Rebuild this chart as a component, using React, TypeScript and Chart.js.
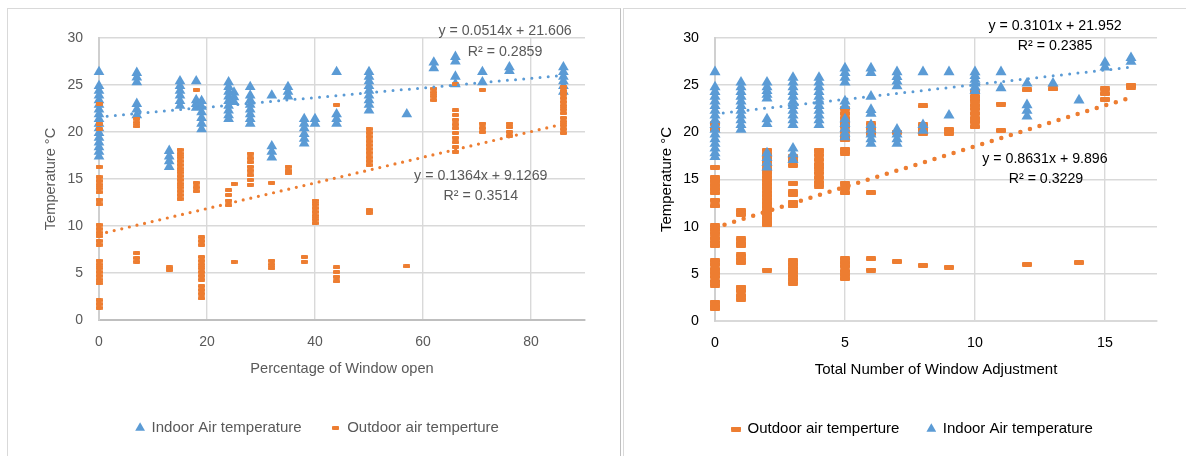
import React, { useEffect, useRef } from "react";
import { Chart, registerables } from "chart.js";

Chart.register(...registerables);

const BLUE = "#5B9BD5";
const ORANGE = "#ED7D31";
const FONT = "'Liberation Sans', Arial, sans-serif";

// ---------------- Left chart: Percentage of Window open ----------------
const leftXTitle = "Percentage of Window open";
const leftYTitle = "Temperature °C";
const leftXMax = 90;
const leftXTicks = [0, 20, 40, 60, 80];
const leftYTicks = [0, 5, 10, 15, 20, 25, 30];

const leftIndoorX = [0, 7, 13, 15, 18, 19, 24, 25, 28, 32, 35, 38, 40, 44, 50, 57, 62, 66, 71, 76, 86];
const leftIndoorY = [
  [26.4, 24.9, 24.4, 23.9, 23.4, 22.9, 22.4, 21.9, 21.4, 20.9, 20.4, 19.9, 19.4, 18.9, 18.4, 17.9, 17.4],
  [26.3, 25.8, 25.3, 23.0, 22.4, 21.8],
  [18.0, 17.4, 16.9, 16.3],
  [25.4, 24.9, 24.4, 23.9, 23.3, 22.8],
  [25.4, 23.4, 23.0, 22.6],
  [23.3, 22.7, 22.1, 21.5, 20.9, 20.3],
  [25.3, 24.8, 24.3, 23.8, 23.3, 22.8, 22.3, 21.8, 21.4],
  [24.2, 23.7, 23.2],
  [24.8, 23.9, 23.4, 22.9, 22.4, 21.9, 21.4, 20.9],
  [23.9, 18.5, 17.9, 17.3],
  [24.8, 24.3, 23.8],
  [21.4, 20.9, 20.4, 19.8, 19.3, 18.8],
  [21.4, 20.9],
  [26.4, 21.9, 21.4, 20.9],
  [26.4, 25.9, 25.4, 24.9, 24.4, 23.9, 23.4, 22.9, 22.3],
  [21.9],
  [27.4, 26.8],
  [28.0, 27.5, 25.9, 25.1],
  [26.4, 25.3],
  [26.9, 26.5],
  [26.9, 26.4, 25.9, 25.4, 24.9, 24.3],
];

const leftOutdoorX = [0, 7, 13, 15, 18, 19, 24, 25, 28, 32, 35, 38, 40, 44, 50, 57, 62, 66, 71, 76, 86];
const leftOutdoorY = [
  [23.0, 20.9, 20.3, 16.3, 15.2, 14.8, 14.4, 14.0, 13.6, 12.8, 12.3, 10.1, 9.7, 9.3, 8.9, 8.4, 8.0, 6.3, 5.9, 5.5, 5.1, 4.7, 4.3, 3.9, 2.1, 1.7, 1.3],
  [21.4, 21.0, 20.6, 7.1, 6.6, 6.2],
  [5.6, 5.3],
  [18.1, 17.7, 17.3, 16.9, 16.5, 16.1, 15.7, 15.3, 14.9, 14.5, 14.1, 13.7, 13.3, 12.9],
  [24.5, 14.6, 14.1, 13.7],
  [8.8, 8.4, 8.0, 6.7, 6.3, 5.9, 5.5, 5.1, 4.7, 4.3, 3.6, 3.2, 2.8, 2.3],
  [13.8, 13.3, 12.7, 12.2],
  [14.5, 6.2],
  [17.7, 17.2, 16.8, 16.3, 15.9, 15.4, 14.9, 14.4],
  [14.6, 6.3, 5.9, 5.5],
  [16.3, 15.9, 15.6],
  [6.7, 6.2],
  [12.7, 12.3, 11.9, 11.5, 11.1, 10.7, 10.3],
  [22.9, 5.6, 5.1, 4.6, 4.1],
  [20.3, 19.9, 19.5, 19.0, 18.6, 18.2, 17.8, 17.3, 16.9, 16.5, 11.7, 11.4],
  [5.7],
  [24.6, 24.2, 23.8, 23.4],
  [25.1, 22.3, 21.8, 21.3, 20.8, 20.4, 19.9, 19.4, 18.9, 18.4, 17.9],
  [24.5, 20.9, 20.4, 20.0],
  [20.9, 20.5, 20.0, 19.6],
  [24.8, 24.4, 24.0, 23.6, 23.2, 22.8, 22.4, 22.0, 21.5, 21.1, 20.7, 20.3, 19.9],
];

const leftIndoorTrend = { slope: 0.0514, intercept: 21.606, xEnd: 86 };
const leftOutdoorTrend = { slope: 0.1364, intercept: 9.1269, xEnd: 86 };

const leftEqText = ["y = 0.0514x + 21.606", "R² = 0.2859", "y = 0.1364x + 9.1269", "R² = 0.3514"];
const leftEqX = [75.2, 75.2, 70.7, 70.7];
const leftEqY = [30.74, 28.51, 15.32, 13.19];

// ---------------- Right chart: Total Number of Window Adjustment ----------------
const rightXTitle = "Total Number of Window Adjustment";
const rightYTitle = "Temperature °C";
const rightXMax = 17;
const rightXTicks = [0, 5, 10, 15];
const rightYTicks = [0, 5, 10, 15, 20, 25, 30];

const rightIndoorX = [0, 1, 2, 3, 4, 5, 6, 7, 8, 9, 10, 11, 12, 13, 14, 15, 16];
const rightIndoorY = [
  [26.4, 24.8, 24.3, 23.8, 23.3, 22.8, 22.3, 21.8, 21.3, 20.8, 20.3, 19.8, 19.3, 18.8, 18.3, 17.8, 17.4],
  [25.3, 24.8, 24.3, 23.8, 23.3, 22.8, 22.3, 21.8, 21.3, 20.8, 20.3],
  [25.3, 24.8, 24.4, 24.0, 23.6, 21.4, 20.9, 17.8, 17.3, 16.8, 16.3],
  [25.8, 25.3, 24.8, 24.3, 23.8, 23.3, 22.8, 22.3, 21.8, 21.3, 20.8, 18.3, 17.7, 17.1],
  [25.8, 25.3, 24.8, 24.3, 23.8, 23.3, 22.8, 22.3, 21.8, 21.3, 20.8],
  [26.8, 26.3, 25.8, 25.3, 23.3, 22.8, 21.4, 20.9, 20.4, 19.9, 19.5],
  [26.8, 26.3, 23.8, 22.4, 22.0, 20.8, 20.3, 19.8, 19.3, 18.8],
  [26.4, 25.9, 25.4, 24.9, 20.3, 19.8, 19.3, 18.8],
  [26.4, 20.8, 20.2],
  [26.4, 21.8],
  [26.4, 26.0, 25.6, 25.2, 24.8, 24.4],
  [26.4, 24.7],
  [25.2, 22.9, 22.3, 21.7],
  [25.2],
  [23.4],
  [27.4, 26.9],
  [27.9, 27.5],
];

const rightOutdoorX = [0, 1, 2, 3, 4, 5, 6, 7, 8, 9, 10, 11, 12, 13, 14, 15, 16];
const rightOutdoorY = [
  [20.9, 20.3, 16.3, 15.2, 14.8, 14.4, 14.0, 13.6, 12.8, 12.2, 10.1, 9.7, 9.3, 8.8, 8.4, 8.0, 6.4, 6.0, 5.5, 5.1, 4.7, 4.2, 3.8, 2.0, 1.6, 1.3],
  [11.7, 11.3, 8.7, 8.3, 8.0, 7.0, 6.6, 6.2, 3.6, 3.2, 2.7, 2.3],
  [18.1, 17.7, 17.3, 16.9, 16.5, 16.1, 15.7, 15.3, 14.9, 14.5, 14.1, 13.7, 13.3, 12.9, 12.5, 12.1, 11.7, 11.3, 10.9, 10.5, 10.2, 5.4],
  [17.4, 17.0, 16.5, 14.6, 13.7, 13.4, 12.6, 12.2, 6.4, 6.0, 5.6, 5.2, 4.8, 4.4, 4.0],
  [18.1, 17.6, 17.1, 16.6, 16.2, 15.7, 15.2, 14.7, 14.3],
  [22.5, 22.0, 21.5, 21.0, 20.6, 20.1, 19.6, 19.2, 18.2, 17.8, 14.6, 14.1, 13.6, 6.6, 6.2, 5.8, 5.3, 4.9, 4.5],
  [20.9, 20.4, 19.9, 13.6, 6.6, 5.4],
  [20.0, 6.3],
  [22.8, 20.8, 20.3, 19.9, 5.9],
  [20.3, 19.9, 5.7],
  [24.3, 23.8, 23.4, 22.9, 22.5, 22.0, 21.5, 21.1, 20.6],
  [23.0, 20.2],
  [24.5, 6.0],
  [24.6],
  [6.2],
  [24.6, 24.1, 23.5],
  [25.0, 24.8],
];

const rightIndoorTrend = { slope: 0.3101, intercept: 21.952, xEnd: 16 };
const rightOutdoorTrend = { slope: 0.8631, intercept: 9.896, xEnd: 16 };

const rightEqText = ["y = 0.3101x + 21.952", "R² = 0.2385", "y = 0.8631x + 9.896", "R² = 0.3229"];
const rightEqX = [13.08, 13.08, 12.69, 12.73];
const rightEqY = [31.27, 29.15, 17.17, 15.05];

// ---------------- helpers ----------------
function dashMarker(w: number, h: number, color: string): HTMLCanvasElement {
  const c = document.createElement("canvas");
  c.width = w;
  c.height = h;
  const ctx = c.getContext("2d");
  if (ctx) {
    ctx.fillStyle = color;
    ctx.beginPath();
    const anyCtx = ctx as any;
    if (anyCtx.roundRect) anyCtx.roundRect(0, 0, w, h, 1);
    else ctx.rect(0, 0, w, h);
    ctx.fill();
  }
  return c;
}

function toPoints(xs: number[], ys: number[][]) {
  return xs.flatMap((x, i) => ys[i].map((y) => ({ x, y })));
}

function trendPoints(t: { slope: number; intercept: number; xEnd: number }) {
  return [
    { x: 0, y: t.intercept },
    { x: t.xEnd, y: t.intercept + t.slope * t.xEnd },
  ];
}

type Spec = {
  width: number;
  height: number;
  pad: { left: number; right: number; top: number; bottom: number };
  yAxisW: number;
  xAxisH: number;
  xMax: number;
  xTicks: number[];
  yTicks: number[];
  xTitle: string;
  yTitle: string;
  titleSize: number;
  xTitlePadBottom: number;
  yTitlePadTop: number;
  tickSize: number;
  textColor: string;
  legendPad: number;
  legendSize: number;
  xBorder: string;
  yBorder: string;
  eqText: string[];
  eqX: number[];
  eqY: number[];
  eqSize: number;
  buildDatasets: () => any[];
};

function Panel({ spec }: { spec: Spec }) {
  const ref = useRef<HTMLCanvasElement | null>(null);
  useEffect(() => {
    if (!ref.current) return;
    const eqPlugin = {
      id: "eqLabels",
      afterDatasetsDraw(chart: any) {
        const { ctx, scales } = chart;
        ctx.save();
        ctx.font = `${spec.eqSize}px ${FONT}`;
        ctx.fillStyle = spec.textColor;
        ctx.textAlign = "center";
        ctx.textBaseline = "middle";
        spec.eqText.forEach((t, i) => {
          ctx.fillText(t, scales.x.getPixelForValue(spec.eqX[i]), scales.y.getPixelForValue(spec.eqY[i]));
        });
        ctx.restore();
      },
    };
    const chart = new Chart(ref.current, {
      type: "scatter",
      data: { datasets: spec.buildDatasets() },
      options: {
        animation: false,
        responsive: false,
        events: [],
        layout: { padding: spec.pad },
        plugins: {
          tooltip: { enabled: false },
          legend: {
            position: "bottom",
            labels: {
              usePointStyle: true,
              boxWidth: 8,
              boxHeight: 8,
              padding: spec.legendPad,
              color: spec.textColor,
              font: { family: FONT, size: spec.legendSize },
              filter: (item: any) => item.text !== "",
              sort: (a: any, b: any) => b.datasetIndex - a.datasetIndex,
            },
          },
        },
        scales: {
          x: {
            type: "linear",
            min: 0,
            max: spec.xMax,
            afterBuildTicks: (s: any) => {
              s.ticks = spec.xTicks.map((v) => ({ value: v }));
            },
            afterFit: (s: any) => {
              s.height = spec.xAxisH;
            },
            ticks: { padding: 13.6, color: spec.textColor, font: { family: FONT, size: spec.tickSize } },
            grid: { color: "#d9d9d9", lineWidth: 1.4, drawTicks: false },
            border: { color: spec.xBorder, width: 2 },
            title: {
              display: true,
              text: spec.xTitle,
              color: spec.textColor,
              font: { family: FONT, size: spec.titleSize },
              padding: { top: 0, bottom: spec.xTitlePadBottom },
            },
          },
          y: {
            type: "linear",
            min: 0,
            max: 30,
            afterBuildTicks: (s: any) => {
              s.ticks = spec.yTicks.map((v) => ({ value: v }));
            },
            afterFit: (s: any) => {
              s.width = spec.yAxisW;
            },
            ticks: { padding: 16, color: spec.textColor, font: { family: FONT, size: spec.tickSize } },
            grid: { color: "#d9d9d9", lineWidth: 1.4, drawTicks: false },
            border: { color: spec.yBorder, width: 2 },
            title: {
              display: true,
              text: spec.yTitle,
              color: spec.textColor,
              font: { family: FONT, size: spec.titleSize },
              padding: { top: spec.yTitlePadTop, bottom: 0 },
            },
          },
        },
      } as any,
      plugins: [eqPlugin],
    });
    return () => chart.destroy();
  }, [spec]);
  return (
    <canvas
      ref={ref}
      width={spec.width}
      height={spec.height}
      style={{ display: "block", width: spec.width, height: spec.height }}
    />
  );
}

function trendDataset(t: { slope: number; intercept: number; xEnd: number }, color: string, w: number, gap: number) {
  return {
    label: "",
    data: trendPoints(t),
    showLine: true,
    borderColor: color,
    backgroundColor: color,
    borderWidth: w,
    borderDash: [0, gap],
    borderCapStyle: "round",
    pointRadius: 0,
    pointHoverRadius: 0,
    fill: false,
    clip: false,
  };
}

function indoorDataset(xs: number[], ys: number[][], r: number) {
  return {
    label: "Indoor Air temperature",
    data: toPoints(xs, ys),
    showLine: false,
    pointStyle: "triangle",
    pointRadius: r,
    pointHoverRadius: r,
    backgroundColor: BLUE,
    borderColor: BLUE,
    borderWidth: 0,
    pointBorderWidth: 0,
    clip: false,
  };
}

function outdoorDataset(xs: number[], ys: number[][], w: number, h: number) {
  return {
    label: "Outdoor air temperture",
    data: toPoints(xs, ys),
    showLine: false,
    pointStyle: dashMarker(w, h, ORANGE),
    pointRadius: 4,
    pointHoverRadius: 4,
    backgroundColor: ORANGE,
    borderColor: ORANGE,
    borderWidth: 0,
    pointBorderWidth: 0,
    clip: false,
  };
}

const leftSpec: Spec = {
  width: 612,
  height: 447,
  pad: { left: 42, right: 35, top: 29, bottom: 10.5 },
  yAxisW: 49,
  xAxisH: 70.5,
  xMax: leftXMax,
  xTicks: leftXTicks,
  yTicks: leftYTicks,
  xTitle: leftXTitle,
  yTitle: leftYTitle,
  titleSize: 14.6,
  xTitlePadBottom: 12.74,
  yTitlePadTop: -7.76,
  tickSize: 14,
  textColor: "#595959",
  legendPad: 30,
  legendSize: 15,
  xBorder: "#bfbfbf",
  yBorder: "#cfcfcf",
  eqText: leftEqText,
  eqX: leftEqX,
  eqY: leftEqY,
  eqSize: 14.2,
  buildDatasets: () => [
    trendDataset(leftIndoorTrend, BLUE, 3, 8.2),
    trendDataset(leftOutdoorTrend, ORANGE, 3.2, 7.8),
    outdoorDataset(leftOutdoorX, leftOutdoorY, 7, 4),
    indoorDataset(leftIndoorX, leftIndoorY, 6.2),
  ],
};

const rightSpec: Spec = {
  width: 562,
  height: 447,
  pad: { left: 44, right: 29, top: 29, bottom: 9.5 },
  yAxisW: 47,
  xAxisH: 72.5,
  xMax: rightXMax,
  xTicks: rightXTicks,
  yTicks: rightYTicks,
  xTitle: rightXTitle,
  yTitle: rightYTitle,
  titleSize: 15,
  xTitlePadBottom: 14.5,
  yTitlePadTop: -10,
  tickSize: 14.2,
  textColor: "#000000",
  legendPad: 28,
  legendSize: 15,
  xBorder: "#d9d9d9",
  yBorder: "#d0d0d0",
  eqText: rightEqText,
  eqX: rightEqX,
  eqY: rightEqY,
  eqSize: 14.2,
  buildDatasets: () => [
    trendDataset(rightIndoorTrend, BLUE, 3, 8.3),
    trendDataset(rightOutdoorTrend, ORANGE, 4.5, 10),
    indoorDataset(rightIndoorX, rightIndoorY, 6.4),
    outdoorDataset(rightOutdoorX, rightOutdoorY, 10, 5),
  ],
};

export default function App() {
  return (
    <div
      style={{
        position: "fixed",
        left: 0,
        top: 0,
        width: 1186,
        height: 456,
        overflow: "hidden",
        background: "#ffffff",
      }}
    >
      <div
        style={{
          position: "absolute",
          left: 7,
          top: 8,
          width: 612,
          height: 460,
          border: "1px solid #d9d9d9",
          borderRightColor: "#bfbfbf",
        }}
      >
        <Panel spec={leftSpec} />
      </div>
      <div
        style={{
          position: "absolute",
          left: 623,
          top: 8,
          width: 600,
          height: 460,
          border: "1px solid #d9d9d9",
        }}
      >
        <Panel spec={rightSpec} />
      </div>
    </div>
  );
}
